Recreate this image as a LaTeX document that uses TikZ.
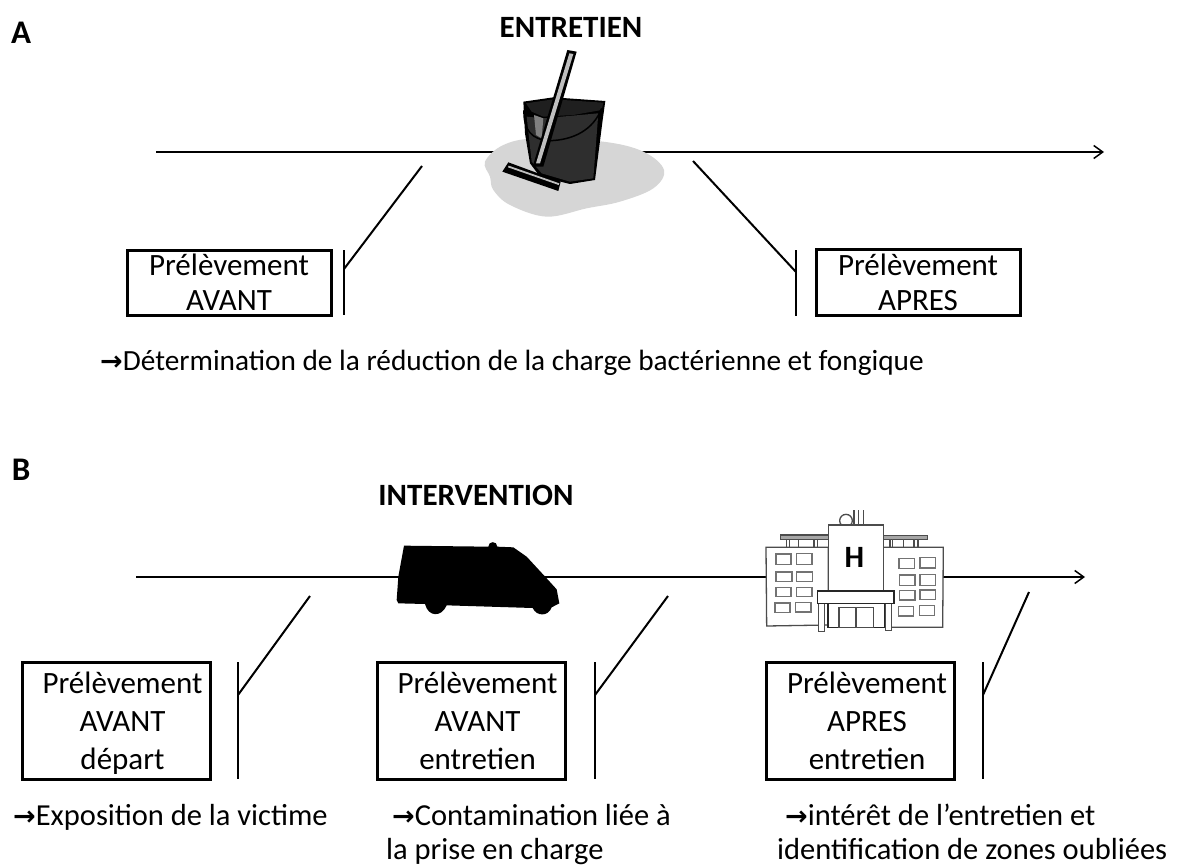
\documentclass[tikz,border=0pt]{standalone}
\usepackage{fontspec}
\setmainfont{Carlito}
\newfontfamily\arrowfont{DejaVu Sans}
\newcommand{\arr}{{\arrowfont\bfseries\fontsize{27}{27}\selectfont →}}
\newcommand{\sh}{\hspace*{13pt}}
\usetikzlibrary{arrows.meta}
\tikzset{
  boxa/.style={draw=black,line width=3pt,fill=white,minimum width=#1,align=center,inner sep=0pt},
  axisline/.style={line width=2.2pt,-{Straight Barb[length=9pt,width=13pt,line width=1.5pt]}},
  callout/.style={line width=2pt},
  head/.style={font=\bfseries\fontsize{31}{33}\selectfont,inner sep=0pt},
  letter/.style={font=\bfseries\fontsize{33}{35}\selectfont,inner sep=0pt},
  note/.style={anchor=west,align=left,inner sep=0pt,font=\fontsize{30.5}{34}\selectfont},
  hosp/.style={draw=black!70,line width=1.3pt,fill=white},
  hwin/.style={draw=black!55,line width=1.1pt,fill=white}
}
\begin{document}
\begin{tikzpicture}[x=1pt,y=-1pt]
\useasboundingbox (0,0) rectangle (1181,867);
\node[letter] (la) at (21,33) {A};
\node[letter] (lb) at (21,470) {B};
\node[head] (ent) at (571,27) {ENTRETIEN};
\node[head] (int) at (476,495) {INTERVENTION};
% axes
\coordinate (a0) at (156,152); \coordinate (a1) at (1104,152);
\coordinate (b0) at (136,577); \coordinate (b1) at (1085,577);
\draw[axisline] (a0) -- (a1);
\draw[axisline] (b0) -- (b1);
% bucket
\begin{scope}[shift={(460,20)},xscale=1/3,yscale=1/3]
\fill[black!16] plot[smooth cycle,tension=.6] coordinates {(75,425)(130,375)(230,355)(430,365)(550,395)(612,450)(580,505)(480,545)(380,565)(260,590)(150,555)(100,510)(90,470)};
\fill[black] (190,245) -- (280,232) -- (436,243) -- (428,300) -- (405,480) -- (330,492) -- (240,470) -- (210,430) -- (195,340) -- cycle;
\fill[black!82] (200,290) -- (250,295) -- (415,280) -- (400,475) -- (330,485) -- (245,460) -- (215,425) -- cycle;
\fill[black!88] (198,250) -- (280,238) -- (430,248) -- (425,270) -- (340,285) -- (250,290) -- (215,275) -- cycle;
\fill[black!50] (222,285) -- (250,295) -- (245,355) -- (228,345) -- cycle;
\draw[black,line width=1.5pt] (192,270) .. controls (190,330) and (215,360) .. (270,362) .. controls (340,360) and (400,330) .. (425,265);
\fill[black] (322,90) -- (350,95) -- (250,440) -- (218,440) -- cycle;
\fill[black!25] (328,100) -- (340,102) -- (240,430) -- (228,430) -- cycle;
\fill[black] (145,427) -- (302,485) -- (295,513) -- (127,455) -- cycle;
\fill[black!25] (146,437) -- (298,490) -- (296,495) -- (144,442) -- cycle;
\end{scope}
% ambulance
\begin{scope}[shift={(380,520)},xscale=1/3,yscale=1/3]
\fill[black] (72,77) -- (325,80) .. controls (325,62) and (352,62) .. (352,80) -- (400,82) -- (440,110) -- (500,175) -- (530,208) -- (538,250) -- (515,262) .. controls (505,290) and (470,290) .. (458,264) -- (200,256) .. controls (185,292) and (145,292) .. (135,252) -- (55,250) -- (50,240) -- (55,170) -- cycle;
\end{scope}
% hospital
\begin{scope}[shift={(740,510)},xscale=1/3,yscale=1/3]
\draw[hosp] (318,32) circle[radius=19];
\draw[hosp] (342,0) -- (342,45) (356,0) -- (356,45) (370,0) -- (370,45);
\draw[hosp,fill=black!35] (122,75) rectangle (268,88);
\draw[hosp,fill=black!35] (428,76) rectangle (562,89);
\draw[hosp] (140,88) -- (140,112) (148,88) -- (148,112) (176,88) -- (176,112) (222,88) -- (222,112) (232,88) -- (232,112);
\draw[hosp] (450,89) -- (450,112) (458,89) -- (458,112) (490,89) -- (490,112) (522,89) -- (522,112) (534,89) -- (534,112);
\draw[hosp] (78,112) -- (265,112) -- (265,345) -- (80,348) -- cycle;
\draw[hosp] (428,112) -- (610,112) -- (608,352) -- (428,352) -- cycle;
\draw[hwin] (108,132) rectangle (153,163);
\draw[hwin] (170,130) rectangle (216,163);
\draw[hwin] (108,186) rectangle (156,214);
\draw[hwin] (170,186) rectangle (218,214);
\draw[hwin] (108,232) rectangle (153,260);
\draw[hwin] (170,232) rectangle (216,260);
\draw[hwin] (105,279) rectangle (150,308);
\draw[hwin] (167,277) rectangle (213,306);
\draw[hwin] (477,146) rectangle (523,176);
\draw[hwin] (540,143) rectangle (587,174);
\draw[hwin] (479,195) rectangle (525,226);
\draw[hwin] (540,194) rectangle (587,226);
\draw[hwin] (479,241) rectangle (525,270);
\draw[hwin] (540,240) rectangle (587,268);
\draw[hwin] (476,289) rectangle (521,318);
\draw[hwin] (538,287) rectangle (584,316);
\draw[hosp] (266,45) rectangle (430,245);
\draw[hosp,line width=1.6pt,draw=black!85] (264,280) -- (264,352) -- (434,352) -- (434,280);
\draw[hosp] (297,293) rectangle (400,352);
\draw[hosp] (348,293) -- (348,352);
\draw[hosp] (236,280) rectangle (254,364);
\draw[hosp] (436,280) rectangle (454,362);
\draw[hosp,draw=black!85,line width=1.6pt] (232,243) rectangle (462,280);
\node[font=\bfseries\fontsize{31}{31}\selectfont,inner sep=0pt] (hh) at (343,141) {H};
\end{scope}
% boxes A
\node[boxa=204pt,minimum height=65pt,font=\fontsize{31}{35}\selectfont] (p1) at (229,282.5) {Prélèvement\\AVANT};
\node[boxa=204pt,minimum height=66pt,font=\fontsize{31}{35}\selectfont] (p2) at (918,282.5) {Prélèvement\\APRES};
% boxes B
\node[boxa=188pt,minimum height=117pt,font=\fontsize{31}{38}\selectfont] (q1) at (116,720.5) {\sh Prélèvement\\\sh AVANT\\\sh\smash{départ}};
\node[boxa=188pt,minimum height=117pt,font=\fontsize{31}{38}\selectfont] (q2) at (471,720.5) {\sh Prélèvement\\\sh AVANT\\\sh entretien};
\node[boxa=188pt,minimum height=117pt,font=\fontsize{31}{38}\selectfont] (q3) at (860.5,720.5) {\sh Prélèvement\\\sh APRES\\\sh entretien};
% callouts
\coordinate (c1a) at (344,250); \coordinate (c1b) at (344,315); \coordinate (c1m) at (344,269); \coordinate (c1e) at (422,166);
\draw[callout] (c1a) -- (c1b); \draw[callout] (c1m) -- (c1e);
\coordinate (c2a) at (796,250); \coordinate (c2b) at (796,316); \coordinate (c2m) at (796,272); \coordinate (c2e) at (693,161);
\draw[callout] (c2a) -- (c2b); \draw[callout] (c2m) -- (c2e);
\coordinate (d1a) at (238,662); \coordinate (d1b) at (238,779); \coordinate (d1m) at (238,695); \coordinate (d1e) at (310,596);
\draw[callout] (d1a) -- (d1b); \draw[callout] (d1m) -- (d1e);
\coordinate (d2a) at (595,662); \coordinate (d2b) at (595,779); \coordinate (d2m) at (595,695); \coordinate (d2e) at (668,596);
\draw[callout] (d2a) -- (d2b); \draw[callout] (d2m) -- (d2e);
\coordinate (d3a) at (983,662); \coordinate (d3b) at (983,779); \coordinate (d3m) at (983,695); \coordinate (d3e) at (1029,592);
\draw[callout] (d3a) -- (d3b); \draw[callout] (d3m) -- (d3e);
% notes
\node[note,font=\fontsize{29.3}{34}\selectfont] (n0) at (100,363) {\arr Détermination de la réduction de la charge bactérienne et fongique};
\node[note] (n1) at (13,817) {\arr Exposition de la victime};
\node[note,anchor=north west] (n2) at (386,804) {\hspace*{6pt}\arr Contamination liée à\\la prise en charge};
\node[note,anchor=north west] (n3) at (777,804) {\hspace*{8pt}\arr intérêt de l’entretien et\\identification de zones oubliées};
\end{tikzpicture}
\end{document}
